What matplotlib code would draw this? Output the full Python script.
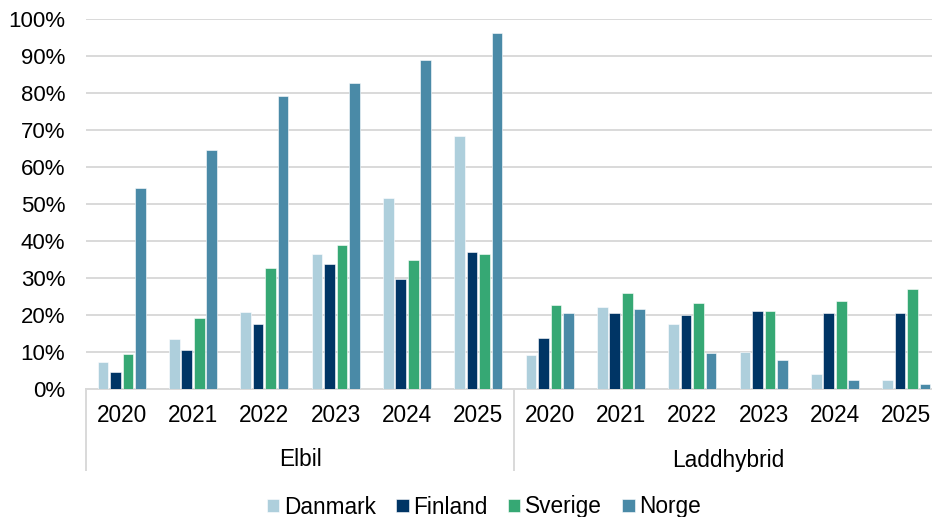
import numpy as np
import matplotlib
matplotlib.use("Agg")
import matplotlib.pyplot as plt
from matplotlib.lines import Line2D

plt.rcParams["font.family"] = ["Liberation Sans", "DejaVu Sans"]

# data
years = ["2020", "2021", "2022", "2023", "2024", "2025"]
groups = ["Elbil", "Laddhybrid"]
countries = ["Danmark", "Finland", "Sverige", "Norge"]
colors = ["#AECFDC", "#003565", "#36A874", "#4A8AA7"]

danmark = [7.4, 13.4, 20.9, 36.6, 51.7, 68.5, 9.1, 22.1, 17.7, 10.1, 4.1, 2.5]
finland = [4.6, 10.6, 17.6, 33.9, 29.6, 37.1, 13.9, 20.5, 19.9, 21.0, 20.5, 20.5]
sverige = [9.5, 19.2, 32.8, 38.8, 35.0, 36.6, 22.7, 26.0, 23.2, 21.0, 23.7, 27.0]
norge = [54.4, 64.7, 79.3, 82.6, 89.0, 96.1, 20.5, 21.6, 9.6, 7.9, 2.5, 1.4]
series = [danmark, finland, sverige, norge]

fig = plt.figure(figsize=(9.32, 5.17), dpi=100)
# plot area runs slightly past the right edge of the picture, as in the original
ax = fig.add_axes([86 / 932, 1 - 389 / 517, 856 / 932, 370 / 517])

n = len(years) * len(groups)
x = np.arange(n)
w = 0.15
step = 0.175
for i, (vals, c, name) in enumerate(zip(series, colors, countries)):
    ax.bar(x + (i - 1.5) * step, np.array(vals) / 100, width=w, color=c,
           edgecolor="white", linewidth=0.4, label=name, zorder=3)

ax.set_xlim(-0.5, n - 0.5)
ax.set_ylim(0, 1)
ticks = np.arange(0, 1.01, 0.1)
ax.set_yticks(ticks)
ax.set_yticklabels([f"{int(round(v * 100))}%" for v in ticks])
ax.yaxis.grid(True, color="#d9d9d9", linewidth=1.4, zorder=0)
ax.tick_params(axis="y", length=0, pad=15, labelsize=16, colors="black")
ax.set_xticks([])
for s in ["top", "right", "left"]:
    ax.spines[s].set_visible(False)
ax.spines["bottom"].set_color("#d9d9d9")
ax.spines["bottom"].set_linewidth(1.4)

# year labels and group labels below the axis
tr = ax.get_xaxis_transform()
for k in range(n):
    ax.text(k, -26 / 370, years[k % len(years)], transform=tr,
            ha="center", va="center", fontsize=16.3)
for g, name in enumerate(groups):
    ax.text(g * len(years) + (len(years) - 1) / 2, -71 / 370, name,
            transform=tr, ha="center", va="center", fontsize=16.3)
for xb in [-0.5, len(years) - 0.5, n - 0.5]:
    ax.add_line(Line2D([xb, xb], [0, -81 / 370], transform=tr,
                       color="#d9d9d9", linewidth=1.4, clip_on=False))

fig.legend(loc="center", bbox_to_anchor=(484 / 932, 1 - 507 / 517), ncol=4,
           frameon=False, fontsize=16.3, handlelength=0.55, handleheight=0.55,
           handletextpad=0.2, columnspacing=0.9)

fig.savefig("out.png", dpi=100)
